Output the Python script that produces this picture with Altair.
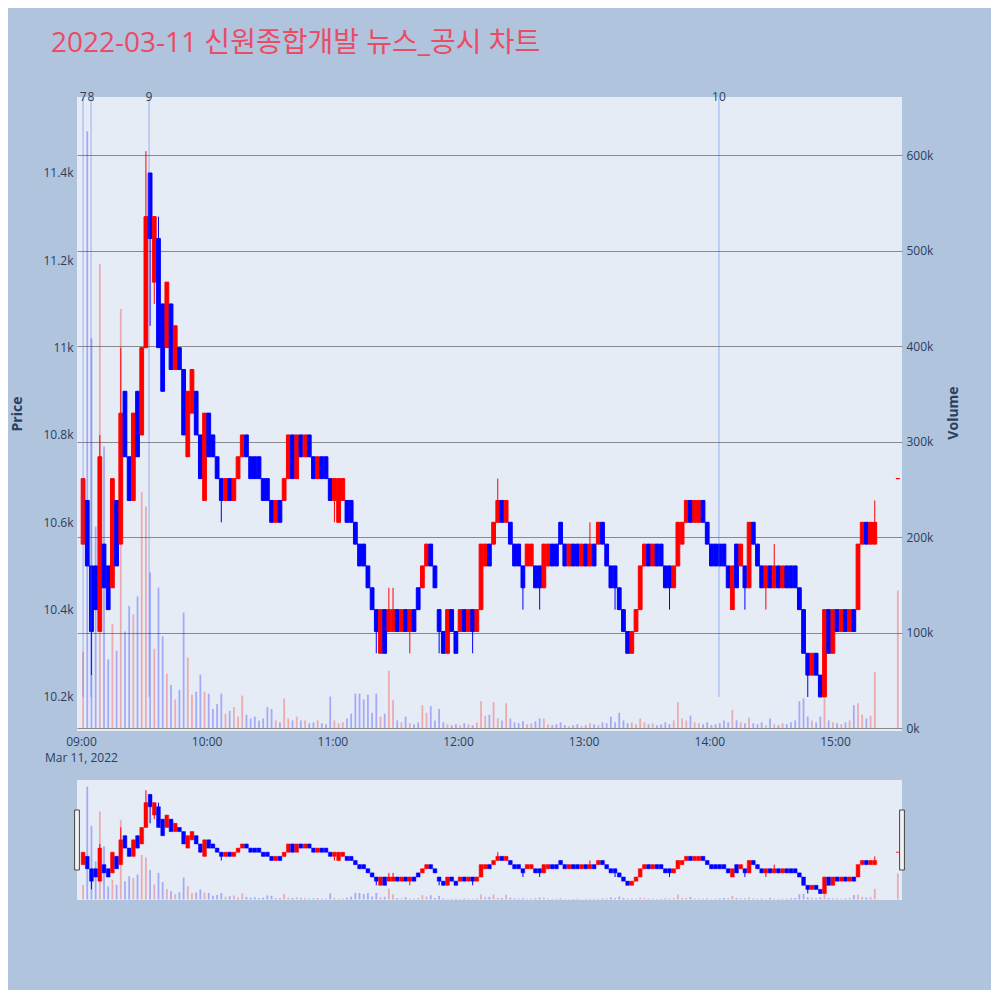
import altair as alt
import pandas as pd

# 2022-03-11 intraday, 2-minute candles from 09:00 (index i covers minute 2i..2i+2)
title_text = "2022-03-11 신원종합개발 뉴스_공시 차트"

opens = [
    10550, 10650, 10500, 10500, 10350, 10550, 10500, 10450, 10650, 10550,
    10900, 10750, 10650, 10900, 10800, 11000, 11400, 11150, 11250, 11100,
    11000, 11100, 10950, 11000, 10950, 10750, 10850, 10900, 10800, 10650,
    10850, 10800, 10750, 10700, 10650, 10700, 10650, 10700, 10750, 10800,
    10750, 10750, 10750, 10700, 10700, 10650, 10600, 10650, 10650, 10700,
    10800, 10700, 10800, 10750, 10800, 10750, 10700, 10750, 10750, 10700,
    10650, 10600, 10650, 10650, 10650, 10600, 10550, 10550, 10500, 10450,
    10400, 10300, 10400, 10350, 10350, 10400, 10350, 10400, 10350, 10400,
    10450, 10450, 10500, 10550, 10500, 10400, 10350, 10300, 10400, 10350,
    10350, 10400, 10350, 10400, 10350, 10400, 10500, 10550, 10550, 10600,
    10650, 10600, 10600, 10550, 10550, 10500, 10500, 10500, 10500, 10500,
    10450, 10500, 10550, 10550, 10600, 10550, 10500, 10550, 10550, 10500,
    10550, 10500, 10550, 10550, 10600, 10550, 10500, 10500, 10450, 10400,
    10350, 10300, 10350, 10400, 10500, 10550, 10500, 10550, 10550, 10500,
    10500, 10450, 10500, 10550, 10600, 10650, 10600, 10600, 10650, 10600,
    10550, 10550, 10550, 10550, 10500, 10400, 10550, 10500, 10500, 10450,
    10600, 10550, 10500, 10450, 10500, 10450, 10500, 10450, 10500, 10500,
    10500, 10450, 10400, 10300, 10250, 10300, 10250, 10200, 10400, 10300,
    10400, 10350, 10400, 10350, 10400, 10400, 10550, 10600, 10550, 10550,
]
closes = [
    10700, 10500, 10350, 10400, 10750, 10450, 10400, 10700, 10500, 10850,
    10750, 10650, 10850, 10750, 11000, 11300, 11250, 11300, 11000, 10900,
    11150, 10950, 11050, 10950, 10800, 10900, 10950, 10800, 10700, 10850,
    10750, 10750, 10700, 10650, 10700, 10650, 10700, 10750, 10800, 10750,
    10700, 10700, 10700, 10650, 10650, 10600, 10650, 10600, 10700, 10800,
    10700, 10800, 10750, 10800, 10750, 10700, 10750, 10700, 10700, 10650,
    10700, 10700, 10700, 10600, 10600, 10550, 10500, 10500, 10450, 10400,
    10350, 10400, 10300, 10400, 10400, 10350, 10400, 10350, 10400, 10350,
    10400, 10500, 10550, 10500, 10450, 10350, 10300, 10400, 10350, 10300,
    10400, 10350, 10400, 10350, 10400, 10550, 10550, 10500, 10600, 10650,
    10600, 10650, 10550, 10500, 10500, 10450, 10550, 10550, 10450, 10450,
    10550, 10550, 10500, 10500, 10550, 10500, 10550, 10500, 10500, 10550,
    10500, 10550, 10500, 10600, 10550, 10500, 10450, 10450, 10400, 10350,
    10300, 10350, 10400, 10500, 10550, 10500, 10550, 10500, 10500, 10450,
    10450, 10500, 10600, 10600, 10650, 10600, 10650, 10650, 10600, 10550,
    10500, 10500, 10500, 10500, 10450, 10500, 10450, 10550, 10450, 10600,
    10550, 10500, 10450, 10500, 10450, 10500, 10450, 10500, 10450, 10450,
    10450, 10400, 10300, 10250, 10300, 10250, 10200, 10400, 10300, 10400,
    10350, 10400, 10350, 10400, 10350, 10550, 10600, 10550, 10600, 10600,
]
# traded volume per bar, thousands of shares
volumes_k = [
    80, 625, 408, 211, 486, 295, 72, 109, 81, 439,
    101, 128, 119, 138, 247, 232, 163, 83, 147, 96,
    57, 45, 30, 40, 121, 74, 35, 38, 56, 38,
    36, 20, 25, 36, 15, 18, 22, 12, 34, 14,
    10, 12, 8, 10, 22, 20, 8, 6, 31, 10,
    8, 12, 8, 8, 5, 6, 8, 5, 4, 33,
    8, 5, 6, 10, 15, 36, 36, 30, 35, 16,
    36, 12, 15, 60, 29, 8, 6, 12, 5, 4,
    6, 24, 16, 23, 8, 20, 6, 4, 3, 4,
    3, 5, 4, 3, 6, 28, 13, 14, 27, 10,
    8, 26, 10, 6, 5, 7, 4, 5, 7, 10,
    10, 4, 3, 4, 6, 3, 2, 3, 4, 2,
    3, 5, 4, 3, 6, 5, 12, 6, 16, 8,
    5, 6, 4, 10, 6, 4, 5, 3, 4, 6,
    4, 8, 27, 10, 8, 13, 6, 5, 4, 6,
    3, 4, 5, 8, 6, 19, 8, 6, 5, 11,
    5, 4, 6, 3, 10, 4, 3, 5, 4, 6,
    8, 28, 31, 12, 8, 6, 12, 31, 8, 6,
    5, 4, 6, 8, 24, 26, 14, 10, 13, 59,
]
# bars whose wicks reach beyond the body
wick_at = [0, 2, 4, 9, 15, 16, 17, 18, 33, 60, 70, 73, 74, 78, 85, 93,
           99, 105, 109, 121, 127, 140, 158, 163, 165, 173, 189]
wick_high = [10700, 10500, 10800, 11000, 11450, 11400, 11300, 11300, 10700, 10700,
             10400, 10450, 10450, 10400, 10400, 10400, 10700, 10500, 10500, 10600,
             10500, 10500, 10500, 10500, 10550, 10300, 10650]
wick_low = [10550, 10250, 10350, 10550, 11000, 11050, 11100, 11000, 10600, 10600,
            10300, 10350, 10350, 10300, 10300, 10300, 10600, 10400, 10400, 10500,
            10400, 10400, 10400, 10400, 10450, 10200, 10550]

# closing auction print at 15:30
auction_minute = 390
auction_price = 10700
auction_volume_k = 144

# news / disclosure markers (minutes after 09:00)
news_minutes = [1, 4.8, 32.5, 304.6]
news_labels = ["7", "8", "9", "10"]

price_ticks = [10200, 10400, 10600, 10800, 11000, 11200, 11400]
volume_ticks = [0, 100000, 200000, 300000, 400000, 500000, 600000]
hour_ticks = [0, 60, 120, 180, 240, 300, 360]

RED = "#ff0000"
BLUE = "#0000ff"
INK = "#2a3f5f"
FONT = "Open Sans, Noto Sans CJK KR, sans-serif"

rows = []
for i, (o, c) in enumerate(zip(opens, closes)):
    hi, lo = max(o, c), min(o, c)
    if i in wick_at:
        k = wick_at.index(i)
        hi, lo = max(hi, wick_high[k]), min(lo, wick_low[k])
    rows.append({"t0": 2 * i + 0.1, "t1": 2 * i + 1.9, "tm": 2 * i + 1,
                 "top": max(o, c), "bottom": min(o, c), "high": hi, "low": lo,
                 "vol": volumes_k[i] * 1000, "dir": "up" if c > o else "down"})
rows.append({"t0": auction_minute - 0.9, "t1": auction_minute + 0.9, "tm": auction_minute,
             "top": auction_price, "bottom": auction_price, "high": auction_price,
             "low": auction_price, "vol": auction_volume_k * 1000, "dir": "up"})
df = pd.DataFrame(rows)
news = pd.DataFrame({"minute": news_minutes, "label": news_labels})

x_scale = alt.Scale(domain=[-1.9, 392], nice=False, zero=False)
x_axis = alt.Axis(values=hour_ticks, grid=False, domain=False, ticks=False, title=None,
                  labelPadding=5, labelFlush=False, labelLineHeight=16,
                  labelExpr="datum.value == 0 ? ['09:00', 'Mar 11, 2022'] : "
                            "(datum.value < 60 ? '0' : '') + (9 + datum.value / 60) + ':00'")
price_scale = alt.Scale(domain=[10122, 11574], nice=False, zero=False)
price_axis = alt.Axis(values=price_ticks, format="~s", gridColor="white", gridWidth=1,
                      domain=False, ticks=False, title=None, labelPadding=4, orient="left")
vol_scale = alt.Scale(domain=[-3100, 661000], nice=False, zero=False)
vol_axis = alt.Axis(values=volume_ticks, format="~s", gridColor="#8a8a8a", gridWidth=1,
                    domain=False, ticks=False, title=None, labelPadding=4, orient="right")
dir_color = alt.Color("dir:N", scale=alt.Scale(domain=["up", "down"], range=[RED, BLUE]),
                      legend=None)


def xenc(field, axis=x_axis):
    return alt.X(field, scale=x_scale, axis=axis)


base = alt.Chart(df)

# ---- main panel
volume = base.mark_rule(strokeWidth=1.8, opacity=0.28).encode(
    x=xenc("tm:Q"),
    y=alt.Y("vol:Q", scale=vol_scale, axis=vol_axis),
    y2=alt.datum(0),
    color=dir_color,
)
bodies = base.mark_rect(strokeWidth=1).encode(
    x=xenc("t0:Q"), x2="t1:Q",
    y=alt.Y("bottom:Q", scale=price_scale, axis=price_axis), y2="top:Q",
    color=dir_color, stroke=dir_color,
)
wicks = base.mark_rule(strokeWidth=1).encode(
    x=xenc("tm:Q"),
    y=alt.Y("low:Q", scale=price_scale, axis=price_axis), y2="high:Q",
    color=dir_color,
)
news_lines = alt.Chart(news).mark_rule(color="#4169e1", opacity=0.45, strokeWidth=1).encode(
    x=xenc("minute:Q"),
    y=alt.datum(10200),
    y2=alt.value(0),
)
news_text = alt.Chart(news).mark_text(baseline="middle", fontSize=12, color=INK, font=FONT).encode(
    x=xenc("minute:Q"),
    y=alt.value(0),
    text="label:N",
)
price_layers = alt.layer(bodies, wicks, news_lines, news_text)


def label(txt, x, y, **kw):
    return alt.Chart(pd.DataFrame({"t": [txt]})).mark_text(font=FONT, **kw).encode(
        x=alt.value(x), y=alt.value(y), text="t:N")


price_title = label("Price", -59, 317, angle=270, fontSize=14, fontWeight="bold", color=INK)
volume_title = label("Volume", 877, 316, angle=270, fontSize=14, fontWeight="bold", color=INK)
page_title = label(title_text, -26, -45, align="left", baseline="alphabetic",
                   fontSize=28, color="#ea4c65")

main = alt.layer(volume, price_layers, price_title, volume_title, page_title).resolve_scale(
    y="independent"
).properties(width=825, height=634)

# ---- range slider preview
mini_vol = base.mark_rule(strokeWidth=1.8, opacity=0.28).encode(
    x=xenc("tm:Q", None),
    y=alt.Y("vol:Q", scale=vol_scale, axis=None),
    y2=alt.datum(0),
    color=dir_color,
)
mini_bodies = base.mark_rect(strokeWidth=0.5).encode(
    x=xenc("t0:Q", None), x2="t1:Q",
    y=alt.Y("bottom:Q", scale=price_scale, axis=None), y2="top:Q",
    color=dir_color, stroke=dir_color,
)
mini_wicks = base.mark_rule(strokeWidth=1).encode(
    x=xenc("tm:Q", None),
    y=alt.Y("low:Q", scale=price_scale, axis=None), y2="high:Q",
    color=dir_color,
)
handles = alt.Chart(pd.DataFrame({"h": [-1.9, 392]})).mark_point(
    shape="M-0.08,-1L0.08,-1L0.08,1L-0.08,1Z", size=3600, filled=True,
    fill="#f2f2f2", stroke="#444444", strokeWidth=1, opacity=1,
).encode(x=xenc("h:Q", None), y=alt.value(60))

mini = alt.layer(
    alt.layer(mini_vol),
    alt.layer(mini_bodies, mini_wicks),
    handles,
).resolve_scale(y="independent").properties(width=825, height=120)

chart = alt.vconcat(main, mini, spacing=49, bounds="flush").properties(
    background="#b0c4de",
    padding={"left": 3, "top": 22, "right": 30, "bottom": 89},
).configure_view(
    stroke=None, fill="#e5ecf6"
).configure_axis(
    labelFont=FONT, labelColor=INK, labelFontSize=12
)

chart.save("out.html", embed_options={"renderer": "svg", "actions": False})
